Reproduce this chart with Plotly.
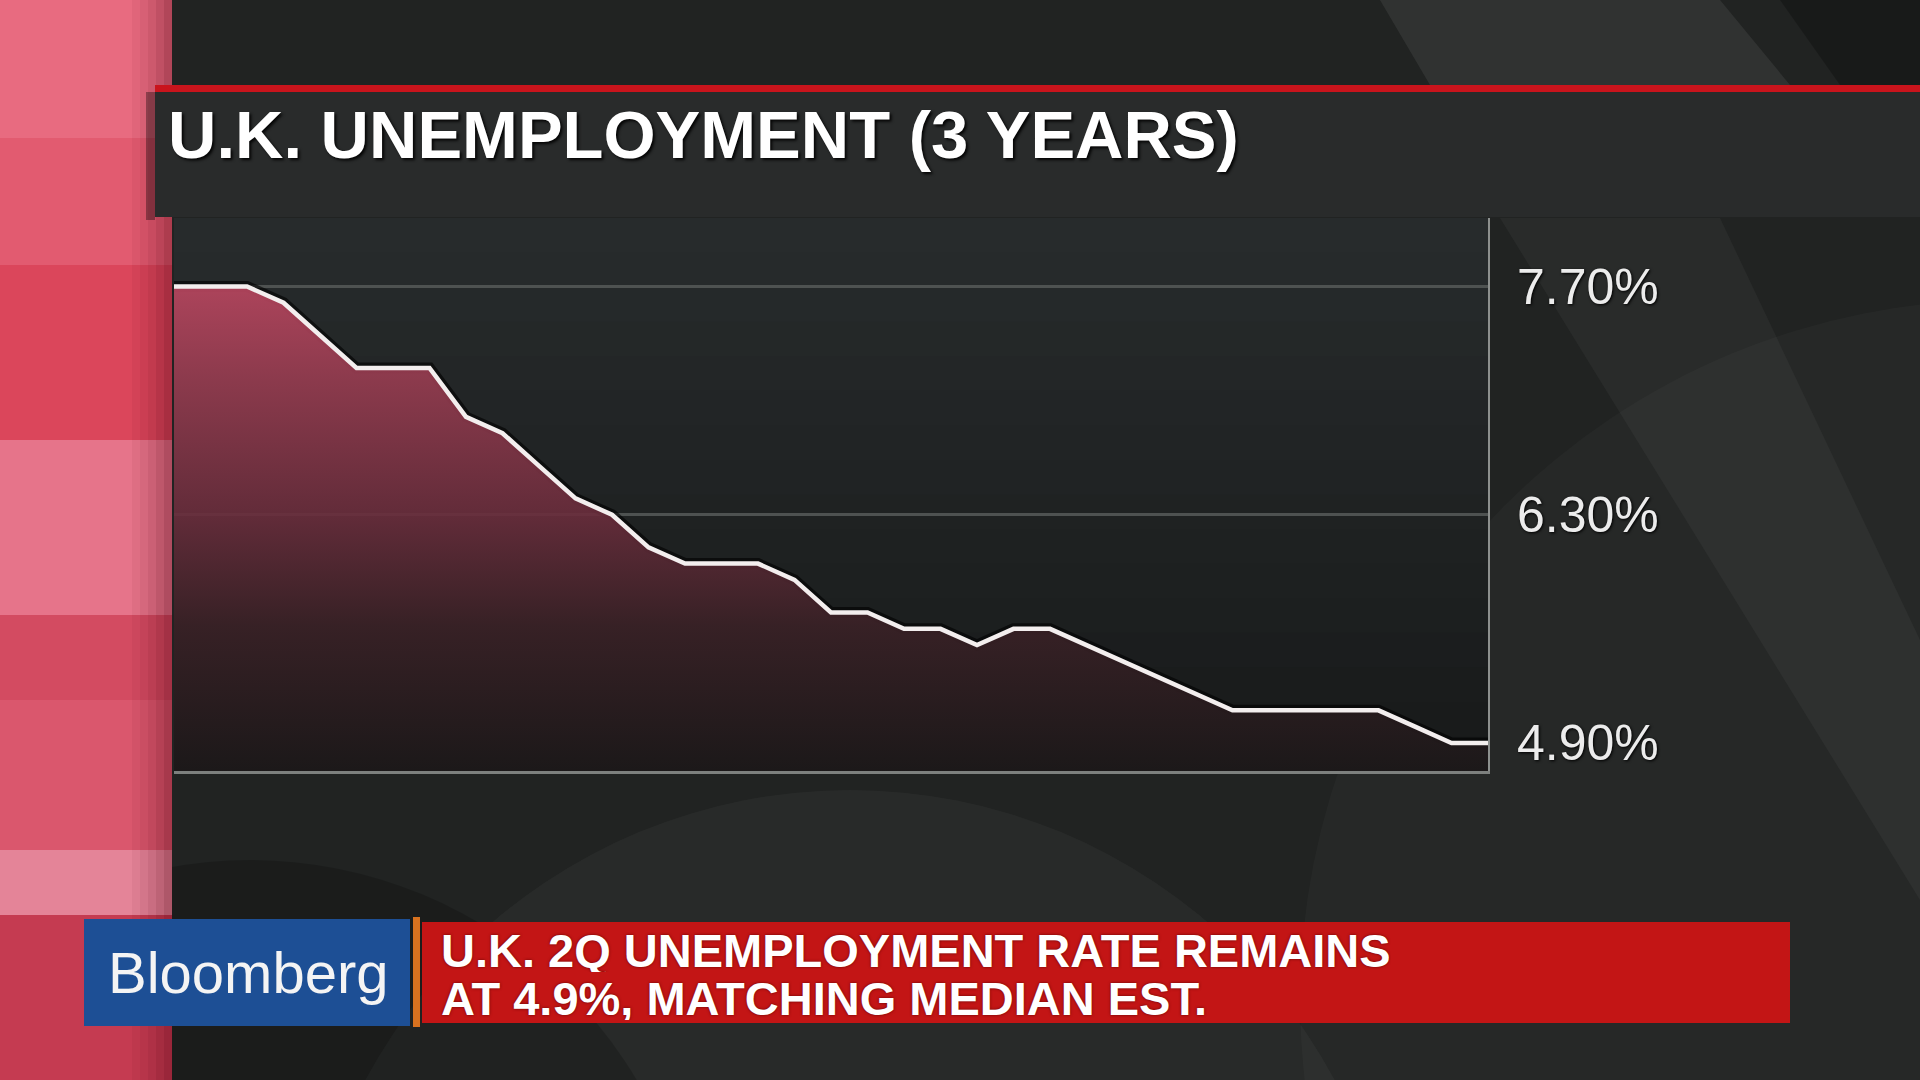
import plotly.graph_objects as go

# ---------------- data ----------------
months = [
    "Jun 2013", "Jul 2013", "Aug 2013", "Sep 2013", "Oct 2013", "Nov 2013", "Dec 2013",
    "Jan 2014", "Feb 2014", "Mar 2014", "Apr 2014", "May 2014", "Jun 2014", "Jul 2014",
    "Aug 2014", "Sep 2014", "Oct 2014", "Nov 2014", "Dec 2014", "Jan 2015", "Feb 2015",
    "Mar 2015", "Apr 2015", "May 2015", "Jun 2015", "Jul 2015", "Aug 2015", "Sep 2015",
    "Oct 2015", "Nov 2015", "Dec 2015", "Jan 2016", "Feb 2016", "Mar 2016", "Apr 2016",
    "May 2016", "Jun 2016",
]
rate = [
    7.7, 7.7, 7.7, 7.6, 7.4, 7.2, 7.2, 7.2, 6.9, 6.8, 6.6, 6.4, 6.3, 6.1, 6.0, 6.0,
    6.0, 5.9, 5.7, 5.7, 5.6, 5.6, 5.5, 5.6, 5.6, 5.5, 5.4, 5.3, 5.2, 5.1, 5.1, 5.1,
    5.1, 5.1, 5.0, 4.9, 4.9,
]
tick_values = [4.9, 6.3, 7.7]
tick_labels = ["4.90%", "6.30%", "7.70%"]
grid_values = [6.3, 7.7]

title_text = "U.K. UNEMPLOYMENT (3 YEARS)"
headline_1 = "U.K. 2Q UNEMPLOYMENT RATE REMAINS"
headline_2 = "AT 4.9%, MATCHING MEDIAN EST."
brand = "Bloomberg"

Y_RANGE = [4.728, 8.12]

# ---------------- geometry helpers (pixel -> paper) ----------------
W, H = 1920, 1080
L, R, T, B = 174, 1488, 218, 771


def px(x):
    return (x - L) / (R - L)


def py(y):
    return (B - y) / (B - T)


def rect(x0, y0, x1, y1, color, layer="below"):
    return dict(type="rect", xref="paper", yref="paper",
                x0=px(x0), x1=px(x1), y0=py(y1), y1=py(y0),
                fillcolor=color, line=dict(width=0), layer=layer)


def circle(x0, y0, x1, y1, color):
    return dict(type="circle", xref="paper", yref="paper",
                x0=px(x0), x1=px(x1), y0=py(y1), y1=py(y0),
                fillcolor=color, line=dict(width=0), layer="below")


def poly(points, color):
    d = "M " + " L ".join(f"{px(a)},{py(b)}" for a, b in points) + " Z"
    return dict(type="path", xref="paper", yref="paper", path=d,
                fillcolor=color, line=dict(width=0), layer="below")


def lerp_hex(c1, c2, t):
    a = [int(c1[i:i + 2], 16) for i in (1, 3, 5)]
    b = [int(c2[i:i + 2], 16) for i in (1, 3, 5)]
    return "#" + "".join(f"{round(a[k] + (b[k] - a[k]) * t):02x}" for k in range(3))


shapes = []
# subtle background arcs / wedges
shapes.append(circle(300, 790, 1400, 1890, "rgba(255,255,255,0.035)"))
shapes.append(circle(-200, 860, 700, 1760, "rgba(0,0,0,0.18)"))
shapes.append(circle(1300, 300, 2700, 1700, "rgba(255,255,255,0.025)"))
shapes.append(poly([(1380, 0), (1720, 0), (1790, 85), (1430, 85)], "rgba(255,255,255,0.07)"))
shapes.append(poly([(1500, 218), (1720, 218), (1920, 640), (1920, 900)],
                   "rgba(255,255,255,0.04)"))
shapes.append(poly([(1780, 0), (1920, 0), (1920, 85), (1840, 85)], "rgba(0,0,0,0.25)"))

# left pink strip
bands = [(0, 138, "#e86b80"), (138, 265, "#e25b70"), (265, 440, "#db465b"),
         (440, 615, "#e6748a"), (615, 700, "#d34b61"), (700, 850, "#da576d"),
         (850, 915, "#e48498"), (915, 1080, "#c53b51")]
for y0, y1, c in bands:
    shapes.append(rect(0, y0, 172, y1, c))
for k, a in enumerate([0.05, 0.1, 0.17, 0.25, 0.34]):
    shapes.append(rect(132 + 8 * k, 0, 140 + 8 * k, 1080, f"rgba(70,0,15,{a})"))

# plot-area background gradient (strips)
n = 16
for i in range(n):
    y0 = T + (B - T) * i / n
    y1 = T + (B - T) * (i + 1) / n + 1
    shapes.append(rect(L, y0, R, y1, lerp_hex("#272b2c", "#181a1a", i / (n - 1))))

# title panel + red rule (on top of the pink strip)
shapes.append(rect(146, 92, 155, 220, "rgba(0,0,0,0.35)"))
shapes.append(rect(155, 92, 1920, 217, "#292b2b"))
shapes.append(rect(155, 85, 1920, 92, "#c9141c"))

# lower-third banner
shapes.append(rect(84, 919, 410, 1026, "#1d4f95", layer="above"))
shapes.append(rect(413, 917, 420, 1027, "#d8721f", layer="above"))
shapes.append(rect(422, 922, 1790, 1023, "#c31515", layer="above"))

FONT = "Liberation Sans, Arial, Helvetica, sans-serif"

annotations = [
    dict(text=title_text, x=px(166), y=py(134), xref="paper", yref="paper",
         xanchor="left", yanchor="middle", showarrow=False,
         font=dict(family=FONT, size=67, color="#ffffff", weight="bold",
                   shadow="2px 2px 3px rgba(0,0,0,0.9)")),
    dict(text=headline_1, x=px(439), y=py(950), xref="paper", yref="paper",
         xanchor="left", yanchor="middle", showarrow=False, height=44, valign="middle",
         font=dict(family=FONT, size=47, color="#ffffff", weight="bold",
                   shadow="0px 0px 3px rgba(90,0,0,0.9)")),
    dict(text=headline_2, x=px(439), y=py(997.5), xref="paper", yref="paper",
         xanchor="left", yanchor="middle", showarrow=False, height=44, valign="middle",
         font=dict(family=FONT, size=47, color="#ffffff", weight="bold",
                   shadow="0px 0px 3px rgba(90,0,0,0.9)")),
    dict(text=brand, x=px(106), y=py(972), xref="paper", yref="paper",
         xanchor="left", yanchor="middle", showarrow=False,
         font=dict(family=FONT, size=58, color="#f4f4f4")),
]

fig = go.Figure()

# dark edge under the line (on the base axis, drawn below the fill)
fig.add_trace(go.Scatter(
    x=months, y=rate, mode="lines", yaxis="y",
    line=dict(color="rgba(0,0,0,0.6)", width=11, shape="linear"),
    hoverinfo="skip", showlegend=False,
))
# gradient area + white line
fig.add_trace(go.Scatter(
    x=months, y=rate, mode="lines", yaxis="y2", fill="tozeroy",
    fillgradient=dict(
        type="vertical", start=Y_RANGE[0], stop=7.7,
        colorscale=[[0.0, "rgba(28,24,25,0.9)"], [0.3, "rgba(58,33,38,0.9)"],
                    [0.53, "rgba(106,45,60,0.9)"], [0.8, "rgba(150,60,80,0.9)"],
                    [1.0, "rgba(184,70,95,0.92)"]],
    ),
    line=dict(color="#f3eeee", width=4.5, shape="linear"),
    hovertemplate="%{x}: %{y:.1f}%<extra></extra>", showlegend=False,
))

fig.update_layout(
    width=W, height=H, autosize=False,
    margin=dict(l=L, r=W - R, t=T, b=H - B, pad=0),
    paper_bgcolor="#212322", plot_bgcolor="rgba(0,0,0,0)",
    shapes=shapes, annotations=annotations, showlegend=False,
    xaxis=dict(type="category", range=[0, len(months) - 1], showticklabels=False,
               showgrid=False, zeroline=False, showline=True,
               linecolor="#7d807e", linewidth=3, ticks="", fixedrange=True),
    yaxis=dict(range=Y_RANGE, tickvals=grid_values, showticklabels=False,
               showgrid=True, gridcolor="#4e5251", gridwidth=3, zeroline=False,
               showline=False, ticks="", fixedrange=True),
    yaxis2=dict(range=Y_RANGE, overlaying="y", side="right",
                tickvals=tick_values, ticktext=tick_labels, showgrid=False,
                zeroline=False, showline=True, linecolor="#8d908e", linewidth=2,
                ticks="", ticklabelstandoff=17, fixedrange=True,
                tickfont=dict(family=FONT, size=50, color="#ececec",
                              shadow="1px 1px 3px #000")),
    hovermode="closest",
)

fig.write_html(
    "out.html",
    config={"displayModeBar": False},
    post_script="document.body.style.margin='0';document.body.style.overflow='hidden';",
)
